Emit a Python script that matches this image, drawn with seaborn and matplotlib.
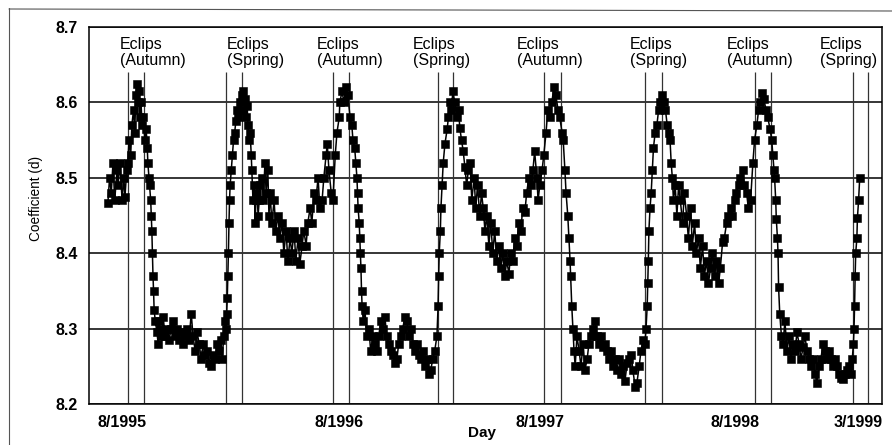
import matplotlib
matplotlib.use("Agg")
import matplotlib.pyplot as plt
from matplotlib.lines import Line2D
import numpy as np
import pandas as pd
import seaborn as sns

# ---------------- data (day count from mid-June 1995, coefficient d) ----------------
day_a = [33,36,39,42,45,49,51,54,58,61,63,66,68,70,73,75,78,80,82,84,86,87,89,91,93,94,98,100,102,103,
         105,106,108,109,110,111,112,113,114,116,119,121,123,124,128,130,133,137,140,144,147,151,154,158,161,
         165,168,172,175,179,182,186,189,193,196,200,203,207,210,214,217,221,224,228,231,233,236,238]
coef_a = [8.466,8.50,8.48,8.52,8.47,8.51,8.49,8.52,8.47,8.50,8.475,8.51,8.52,8.55,8.53,8.57,8.59,8.56,8.61,8.625,
          8.60,8.615,8.58,8.60,8.57,8.58,8.55,8.565,8.54,8.52,8.50,8.49,8.47,8.45,8.43,8.40,8.37,8.35,8.325,8.31,
          8.295,8.28,8.31,8.30,8.29,8.315,8.29,8.30,8.285,8.30,8.31,8.29,8.30,8.285,8.295,8.28,8.29,8.30,8.285,8.32,
          8.29,8.27,8.295,8.28,8.26,8.28,8.265,8.27,8.255,8.25,8.265,8.26,8.28,8.27,8.285,8.26,8.29,8.31]

day_b = [240,241,242,243,244,245,246,247,249,251,253,255,257,259,261,264,266,268,270,273,
         275,277,278,280,282,284,285,287,289,291,292,294,296,298,299,303,305,308,310,313,
         315,317,320,324,327,331,334,338,341,345,348,352,355,359,362,366,369,373,376,380,
         383,387,390,394,397,401,404,408,411,415,417,420,424,427,431,434,438,439,443,446,
         450,453,457,460,462,465,467,469,470,471,473,474,475,476,477,478]
coef_b = [8.30,8.32,8.34,8.37,8.40,8.44,8.47,8.49,8.51,8.53,8.55,8.56,8.575,8.59,8.58,8.60,8.59,8.61,8.615,8.605,
          8.58,8.595,8.57,8.55,8.56,8.53,8.51,8.47,8.49,8.44,8.47,8.48,8.45,8.47,8.49,8.50,8.47,8.52,8.48,8.51,
          8.45,8.48,8.44,8.47,8.43,8.45,8.42,8.44,8.40,8.43,8.39,8.42,8.40,8.43,8.39,8.42,8.386,8.41,8.43,8.41,
          8.44,8.46,8.44,8.48,8.47,8.50,8.46,8.47,8.50,8.53,8.545,8.51,8.48,8.47,8.53,8.56,8.58,8.60,8.615,8.60,
          8.62,8.61,8.58,8.57,8.55,8.54,8.52,8.50,8.48,8.46,8.44,8.42,8.40,8.38,8.35,8.33]

day_c = [480,483,486,490,493,497,500,504,507,511,514,518,521,525,528,532,535,539,542,546,
         549,553,556,560,563,567,570,574,577,581,584,588,591,595,598,602,605,609]
coef_c = [8.31,8.325,8.29,8.30,8.27,8.29,8.28,8.27,8.29,8.31,8.30,8.315,8.29,8.28,8.27,8.265,8.255,8.26,8.28,8.29,
          8.30,8.315,8.31,8.29,8.30,8.28,8.27,8.28,8.265,8.26,8.27,8.25,8.26,8.24,8.245,8.26,8.27,8.29]

day_d = [611,612,613,615,616,618,620,623,627,629,632,634,637,640,644,647,649,652,655,658,
         661,664,667,670,674,677,680,684,687,690,693,696,700,703,707,710,714,717,721,724,
         728,731,735,738,742,745,749,752,756,759,763,766,770,773,777,780,784,786,789,793,
         796,800,803,807,810,814,817,821,824,828,830,833,835,838,840,842,843,845,847]
coef_d = [8.33,8.37,8.40,8.43,8.46,8.49,8.52,8.545,8.565,8.58,8.60,8.59,8.615,8.60,8.58,8.59,8.566,8.55,8.535,8.514,
          8.49,8.51,8.52,8.47,8.50,8.46,8.49,8.45,8.48,8.46,8.43,8.45,8.41,8.44,8.40,8.43,8.39,8.41,8.38,8.40,
          8.37,8.39,8.373,8.40,8.39,8.42,8.41,8.44,8.43,8.46,8.455,8.48,8.50,8.49,8.51,8.535,8.50,8.47,8.49,8.51,
          8.53,8.56,8.59,8.58,8.60,8.62,8.61,8.59,8.58,8.56,8.55,8.51,8.48,8.45,8.42,8.39,8.37,8.33,8.30]

day_e = [849,851,854,858,861,865,868,872,875,879,882,886,889,893,896,900,903,907,910,914,
         917,921,924,928,931,935,938,942,945,949,952,956,959,963,966,970,973,975]
coef_e = [8.27,8.25,8.29,8.27,8.25,8.28,8.245,8.26,8.28,8.29,8.30,8.31,8.29,8.28,8.29,8.275,8.28,8.27,8.26,8.27,
          8.25,8.26,8.245,8.26,8.24,8.25,8.23,8.255,8.26,8.265,8.245,8.222,8.228,8.25,8.27,8.285,8.28,8.30]

day_f = [977,978,979,980,982,984,986,988,991,994,997,1000,1003,1006,1009,1012,1015,1017,1019,1021,
         1023,1026,1029,1032,1035,1039,1042,1046,1049,1053,1056,1060,1063,1067,1070,1074,1077,1081,1084,1088,
         1091,1095,1098,1102,1105,1109,1112,1116,1119,1123,1126,1130,1133,1137,1140,1144,1147,1151,1154,1158,
         1162,1165,1169,1172,1175,1178,1181,1185,1188,1192,1195,1197,1199,1200,1202,1203,1205,1206,1207,1209,1212]
coef_f = [8.33,8.36,8.39,8.43,8.46,8.48,8.51,8.54,8.56,8.57,8.59,8.60,8.61,8.60,8.59,8.57,8.56,8.55,8.52,8.50,
          8.47,8.49,8.45,8.49,8.47,8.44,8.48,8.45,8.42,8.46,8.41,8.44,8.40,8.42,8.38,8.41,8.37,8.39,8.36,8.38,
          8.40,8.37,8.39,8.36,8.38,8.415,8.42,8.44,8.45,8.46,8.45,8.47,8.48,8.49,8.50,8.51,8.49,8.48,8.46,8.47,
          8.52,8.55,8.57,8.59,8.60,8.612,8.605,8.59,8.58,8.565,8.55,8.53,8.51,8.50,8.47,8.445,8.42,8.40,8.355,8.32,8.29]

day_g = [1215,1218,1222,1225,1229,1232,1236,1239,1243,1246,1250,1253,1257,1260,1264,1267,1271,1274,1278,1281,
         1285,1288,1292,1295,1299,1302,1306,1309,1313,1316,1320,1323,1327,1330,1334,1336,1338,1339,1340,1341,
         1342,1344,1345,1347,1349]
coef_g = [8.28,8.31,8.27,8.29,8.26,8.28,8.27,8.295,8.28,8.26,8.275,8.29,8.27,8.26,8.25,8.26,8.24,8.228,8.25,8.26,
          8.28,8.27,8.26,8.27,8.26,8.25,8.26,8.25,8.24,8.235,8.233,8.24,8.245,8.25,8.24,8.26,8.28,8.30,8.33,8.37,
          8.40,8.42,8.447,8.47,8.50]

# eclipse season boundaries (days)
eclipse_days = [68, 96, 240, 268, 427, 455, 611, 637, 796, 826, 973, 1003, 1166, 1194, 1337, 1363]
eclipse_labels = ["Eclips\n(Autumn)", "Eclips\n(Spring)", "Eclips\n(Autumn)", "Eclips\n(Spring)",
                  "Eclips\n(Autumn)", "Eclips\n(Spring)", "Eclips\n(Autumn)", "Eclips\n(Spring)"]
label_days = [54, 241, 399, 567, 749, 947, 1116, 1279]

tick_days = [58, 437, 789, 1130, 1346]
tick_labels = ["8/1995", "8/1996", "8/1997", "8/1998", "3/1999"]
y_ticks = [8.2, 8.3, 8.4, 8.5, 8.6, 8.7]

# ---------------- build table ----------------
day = day_a + day_b + day_c + day_d + day_e + day_f + day_g
coef = coef_a + coef_b + coef_c + coef_d + coef_e + coef_f + coef_g
df = pd.DataFrame({"day": day, "coef": coef})

sns.set_theme(style="white")
plt.rcParams["font.family"] = ["Liberation Sans", "DejaVu Sans"]

fig = plt.figure(figsize=(8.92, 4.45), dpi=100)
ax = fig.add_axes([89 / 892, 1 - 404 / 445, 793 / 892, 377 / 445])

ax.set_ylim(8.2, 8.7)
ax.set_xlim(0, 1388)
ax.set_yticks(y_ticks)
ax.set_yticklabels([f"{v:.1f}" for v in y_ticks])
ax.yaxis.grid(True, color="black", linewidth=1.1)
ax.xaxis.grid(False)
ax.set_axisbelow(True)

# eclipse markers
ax.vlines(eclipse_days, 8.2, 8.64, color="#333333", linewidth=0.9, zorder=1)

sns.lineplot(data=df, x="day", y="coef", ax=ax, color="black", linewidth=1.1,
             marker="s", markersize=6.0, markeredgecolor="black", markeredgewidth=0.4,
             estimator=None, sort=False, zorder=3)

for x, txt in zip(label_days, eclipse_labels):
    ax.text(x, 8.687, txt, ha="left", va="top", fontsize=11.5, linespacing=1.08,
            color="black", zorder=4)

ax.set_xticks(tick_days)
ax.set_xticklabels(tick_labels)
ax.tick_params(axis="both", length=0, labelsize=11.5, colors="black")
ax.tick_params(axis="x", pad=8)
ax.tick_params(axis="y", pad=8)
for lab in ax.get_xticklabels() + ax.get_yticklabels():
    lab.set_fontweight("bold")

ax.set_ylabel("Coefficient (d)", fontsize=9.8, color="black")
ax.yaxis.set_label_coords(-0.058, 0.545)
ax.set_xlabel("Day", fontsize=11, fontweight="bold", color="black")
ax.xaxis.set_label_coords(0.496, -0.058)

for s in ax.spines.values():
    s.set_visible(True)
    s.set_color("black")
    s.set_linewidth(1.1)

# outer page frame
fig.add_artist(Line2D([9 / 892, 9 / 892], [0, 1 - 8 / 445], transform=fig.transFigure,
                      color="#555555", linewidth=0.8))
fig.add_artist(Line2D([9 / 892, 1], [1 - 9 / 445, 1 - 11 / 445], transform=fig.transFigure,
                      color="#555555", linewidth=0.8))

fig.savefig("out.png", dpi=100)
